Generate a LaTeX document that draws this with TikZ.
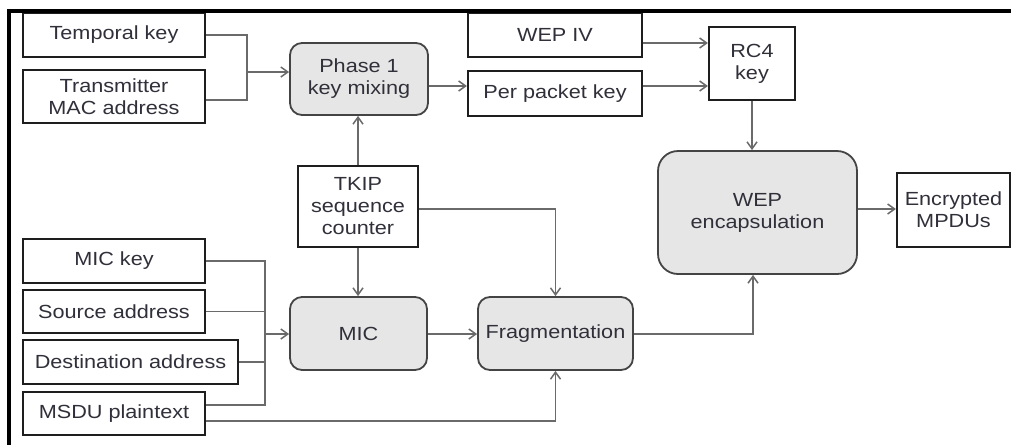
\documentclass[tikz,border=0pt]{standalone}
\usepackage{fontspec}
\setmainfont{Liberation Sans}[FakeStretch=1.14]
\usetikzlibrary{arrows.meta}

\definecolor{boxline}{HTML}{1E1E1E}
\definecolor{roundline}{HTML}{444444}
\definecolor{wire}{HTML}{6A6A6A}
\definecolor{procfill}{HTML}{E6E6E6}
\definecolor{txt}{HTML}{30303A}

\tikzset{
  base/.style={inner sep=0pt, align=center, text=txt,
    font=\fontsize{19}{22}\selectfont},
  databox/.style={base, draw=boxline, line width=2.2pt, fill=white},
  procbox/.style={base, draw=roundline, line width=1.8pt, fill=procfill,
    rounded corners=12pt},
  conn/.style={draw=wire, line width=1.5pt},
  arr/.style={conn, -{Straight Barb[length=7pt,width=10pt]}},
}

\begin{document}
\begin{tikzpicture}[x=1pt, y=-1pt]
\useasboundingbox (0,0) rectangle (1011,445);

% helper levels for connector routing
\coordinate (y43)  at (0,43);
\coordinate (y72)  at (0,72);
\coordinate (y86)  at (0,86);
\coordinate (y100) at (0,100);
\coordinate (y209) at (0,209);
\coordinate (y334) at (0,334);
\coordinate (y405) at (0,405);
\coordinate (y421) at (0,421);
\coordinate (busA) at (247,0);
\coordinate (busB) at (265,0);
\coordinate (upx)  at (753,0);

% key-mixing inputs
\node[databox, minimum width=182pt, minimum height=44pt] (tk)  at (114,35)   {Temporal key};
\node[databox, minimum width=182pt, minimum height=53pt] (tma) at (114,96.5) {Transmitter\\MAC address};
\node[procbox, minimum width=138pt, minimum height=72pt] (ph1) at (359,79)   {Phase 1\\key mixing};

% per-packet keying
\node[databox, minimum width=174pt, minimum height=44pt] (wepiv) at (555,35)   {WEP IV};
\node[databox, minimum width=174pt, minimum height=45pt] (ppk)   at (555,93.5) {Per packet key};
\node[databox, minimum width=86pt,  minimum height=73pt] (rc4)   at (752,63.5) {RC4\\key};

% encapsulation and output
\node[procbox, rounded corners=20pt, minimum width=199pt, minimum height=123pt] (wepenc) at (757.5,212.5) {WEP\\encapsulation};
\node[databox, minimum width=113pt, minimum height=74pt] (emp) at (953.5,210) {Encrypted\\MPDUs};

% sequence counter
\node[databox, minimum width=120pt, minimum height=81pt] (tkip) at (358,206.5) {TKIP\\sequence\\counter};

% MIC inputs
\node[databox, minimum width=182pt, minimum height=44pt] (mick) at (114,261)   {MIC key};
\node[databox, minimum width=182pt, minimum height=43pt] (src)  at (114,311.5) {Source address};
\node[databox, minimum width=215pt, minimum height=44pt] (dst)  at (130.5,362) {Destination address};
\node[databox, minimum width=182pt, minimum height=43pt] (msdu) at (114,413.5) {MSDU plaintext};

% processing stages
\node[procbox, minimum width=137pt, minimum height=73pt] (mic)  at (358.5,333.5) {MIC};
\node[procbox, minimum width=155pt, minimum height=73pt] (frag) at (555.5,333.5) {Fragmentation};

% connectors: key mixing
\draw[conn] (tk.east) -| (busA |- y100) -- (tma.east |- y100);
\draw[arr]  (busA |- y72) -- (ph1.west |- y72);
\draw[arr]  (ph1.east |- y86) -- (ppk.west |- y86);
\draw[arr]  (wepiv.east |- y43) -- (rc4.west |- y43);
\draw[arr]  (ppk.east |- y86) -- (rc4.west |- y86);
\draw[arr]  (rc4.south) -- (rc4.south |- wepenc.north);
\draw[arr]  (wepenc.east |- y209) -- (emp.west |- y209);

% connectors: sequence counter
\draw[arr]  (tkip.north) -- (tkip.north |- ph1.south);
\draw[arr]  (tkip.south) -- (tkip.south |- mic.north);
\draw[arr]  (tkip.east |- y209) -| (frag.north);

% connectors: MIC inputs
\draw[conn] (mick.east) -| (busB |- y405) -- (msdu.east |- y405);
\draw[conn] (src.east) -- (src.east -| busB);
\draw[conn] (dst.east) -- (dst.east -| busB);
\draw[arr]  (busB |- y334) -- (mic.west |- y334);
\draw[arr]  (mic.east |- y334) -- (frag.west |- y334);
\draw[arr]  (msdu.east |- y421) -| (frag.south);
\draw[arr]  (frag.east |- y334) -| (upx |- wepenc.south);

% frame
\draw[black, line width=4pt] (1011,10.5) -- (9,10.5) -- (9,445);
\end{tikzpicture}
\end{document}
